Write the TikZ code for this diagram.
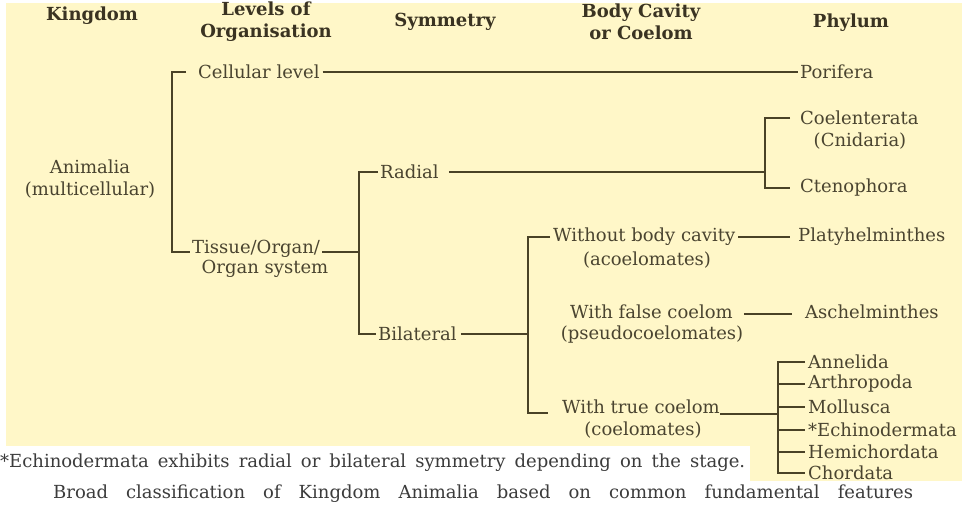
\documentclass[tikz,border=0pt]{standalone}
\usepackage{fontspec}
\setmainfont{DejaVu Serif}
\usetikzlibrary{calc}
\definecolor{bg}{HTML}{FFF7C8}
\definecolor{txt}{HTML}{4A4430}
\definecolor{hdc}{HTML}{3A3322}
\definecolor{lnc}{HTML}{4A4226}
\definecolor{ftc}{HTML}{3C3C3C}
\newcommand{\bodyfnt}{\fontsize{18}{22}\selectfont}
\newcommand{\headfnt}{\fontsize{18}{22}\selectfont\bfseries}
\tikzset{
  lbl/.style={font=\bodyfnt, text=txt, inner sep=0pt},
  lblw/.style={lbl, anchor=west},
  hd/.style={font=\headfnt, text=hdc, inner sep=0pt, align=center},
  ln/.style={draw=lnc, line width=1.6pt},
  foot/.style={font=\fontsize{18}{20}\selectfont, text=ftc, inner sep=0pt, anchor=west}
}
\begin{document}
\begin{tikzpicture}[x=1pt,y=-1pt]
\useasboundingbox (0,0) rectangle (962,510);
\fill[white] (0,0) rectangle (962,510);
\fill[bg] (6,3) rectangle (962,446);
\fill[bg] (750,446) rectangle (962,481);

% headers
\node[hd] (hkingdom) at (92,16) {Kingdom};
\node[hd] (hlevels) at (266,22) {Levels of\\Organisation};
\node[hd] (hsym) at (445,22) {Symmetry};
\node[hd] (hbody) at (641,22) {Body Cavity\\or Coelom};
\node[hd] (hphyl) at (851,23) {Phylum};

% kingdom
\node[lbl, align=center] (animalia) at (90,179) {Animalia\\(multicellular)};

% levels
\node[lblw] (cell) at (198,72) {Cellular level};
\node[lblw] (tissue) at (192,249) {Tissue/Organ/};
\node[lbl] (tissueb) at (265,269) {Organ system};

% symmetry
\node[lblw] (radial) at (380,172) {Radial};
\node[lblw] (bilat) at (378,334) {Bilateral};

% body cavity
\node[lblw] (without) at (553,237) {Without body cavity};
\node[lbl] (acoel) at (647,260) {(acoelomates)};
\node[lblw] (falsec) at (570,312) {With false coelom};
\node[lbl] (pseudo) at (652,335) {(pseudocoelomates)};
\node[lblw] (truec) at (562,407) {With true coelom};
\node[lbl] (coelom) at (643,430) {(coelomates)};

% phyla
\node[lblw] (porifera) at (800,72) {Porifera};
\node[lblw] (coelent) at (800,118) {Coelenterata};
\node[lbl] (cnid) at (860,141) {(Cnidaria)};
\node[lblw] (cteno) at (800,188) {Ctenophora};
\node[lblw] (platy) at (798,237) {Platyhelminthes};
\node[lblw] (asch) at (805,312) {Aschelminthes};
\node[lblw] (annel) at (808,362) {Annelida};
\node[lblw] (arthro) at (808,384) {Arthropoda};
\node[lblw] (moll) at (808,407) {Mollusca};
\node[lblw] (echino) at (808,430) {*Echinodermata};
\node[lblw] (hemi) at (808,452) {Hemichordata};
\node[lblw] (chord) at (808,473) {Chordata};

% bracket x positions and helper points
\coordinate (b1) at (172,0);
\coordinate (b2) at (359,0);
\coordinate (b3) at (765,0);
\coordinate (b4) at (528,0);
\coordinate (b5) at (778,0);
\coordinate (tisw) at ([yshift=-3pt]tissue.west);
\coordinate (tise) at ([yshift=-3pt]tissue.east);
\coordinate (truew) at ([yshift=-6pt]truec.west);

% connectors
\draw[ln] ([xshift=-12pt]cell.west) -| (b1 |- tisw) -- ([xshift=-2pt]tisw);
\draw[ln] ([xshift=3pt]cell.east) -- ([xshift=-2pt]porifera.west);
\draw[ln] ([xshift=2pt]tise) -- (b2 |- tise);
\draw[ln] ([xshift=-2pt]radial.west) -| (b2 |- bilat.west) -- ([xshift=-2pt]bilat.west);
\draw[ln] ([xshift=10pt]radial.east) -- (b3 |- radial.east);
\draw[ln] ([xshift=-10pt]coelent.west) -| (b3 |- cteno.west) -- ([xshift=-10pt]cteno.west);
\draw[ln] ([xshift=4pt]bilat.east) -- (b4 |- bilat.east);
\draw[ln] ([xshift=-3pt]without.west) -| (b4 |- truew) -- ([xshift=-14pt]truew);
\draw[ln] ([xshift=3pt]without.east) -- ([xshift=-8pt]platy.west);
\draw[ln] ([xshift=11pt,yshift=-2pt]falsec.east) -- ([xshift=-13pt,yshift=-2pt]asch.west);
\draw[ln] (truec.south east) -- (b5 |- truec.south east);
\draw[ln] ([xshift=-3pt]annel.west) -| (b5 |- chord.west) -- ([xshift=-3pt]chord.west);
\foreach \n in {arthro,moll,echino,hemi}
  \draw[ln] (b5 |- \n.west) -- ([xshift=-3pt]\n.west);

% footnote and caption
\node[foot] (fn) at (0,463) {\makebox[745pt][s]{*Echinodermata exhibits radial or bilateral symmetry depending on the stage.}};
\node[foot] (cap) at (53,494) {\makebox[860pt][s]{Broad classification of Kingdom Animalia based on common fundamental features}};
\end{tikzpicture}
\end{document}
